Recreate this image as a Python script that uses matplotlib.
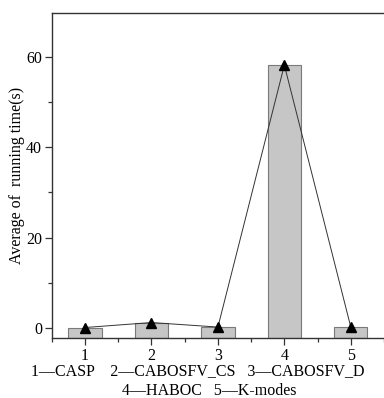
import numpy as np
import matplotlib.pyplot as plt
from matplotlib.ticker import MultipleLocator

methods = [1, 2, 3, 4, 5]
run_time = [0.1, 1.2, 0.2, 58.2, 0.2]
tick_labels = ['1', '2', '3', '4', '5']
caption_1 = '1\u2014CASP    2\u2014CABOSFV_CS   3\u2014CABOSFV_D'
caption_2 = '4\u2014HABOC   5\u2014K-modes'

plt.rcParams['font.family'] = ['Liberation Serif', 'DejaVu Serif']
plt.rcParams['font.size'] = 11.5

fig = plt.figure(figsize=(3.84, 3.98), dpi=100)
ax = fig.add_axes([0.135, 0.151, 0.865, 0.816])

ymin = -2.2
vals = np.array(run_time)
ax.bar(methods, vals - ymin, bottom=ymin, width=0.5, color='#c6c6c6',
       edgecolor='#7a7a7a', linewidth=0.8, zorder=2)
ax.plot(methods, run_time, color='#333333', linewidth=0.7, marker='^',
        markersize=7, markerfacecolor='black', markeredgecolor='black', zorder=3)

ax.set_xlim(0.5, 5.5)
ax.set_ylim(ymin, 69.7)
ax.set_xticks(methods)
ax.set_xticklabels(tick_labels)
ax.xaxis.set_minor_locator(MultipleLocator(0.5))
ax.set_yticks([0, 20, 40, 60])
ax.yaxis.set_minor_locator(MultipleLocator(10))
ax.tick_params(which='major', direction='out', length=5, width=0.9, color='#333333', pad=2)
ax.tick_params(which='minor', direction='out', length=3, width=0.9, color='#333333')
ax.spines['right'].set_visible(False)
for s in ['left', 'top', 'bottom']:
    ax.spines[s].set_linewidth(1.0)
    ax.spines[s].set_color('#333333')

ax.set_ylabel('Average of  running time(s)')
ax.yaxis.set_label_coords(-0.08, 0.5)

fig.text(0.515, 0.067, caption_1, ha='center', va='center')
fig.text(0.545, 0.017, caption_2, ha='center', va='center')

fig.savefig('out.png', dpi=100)
